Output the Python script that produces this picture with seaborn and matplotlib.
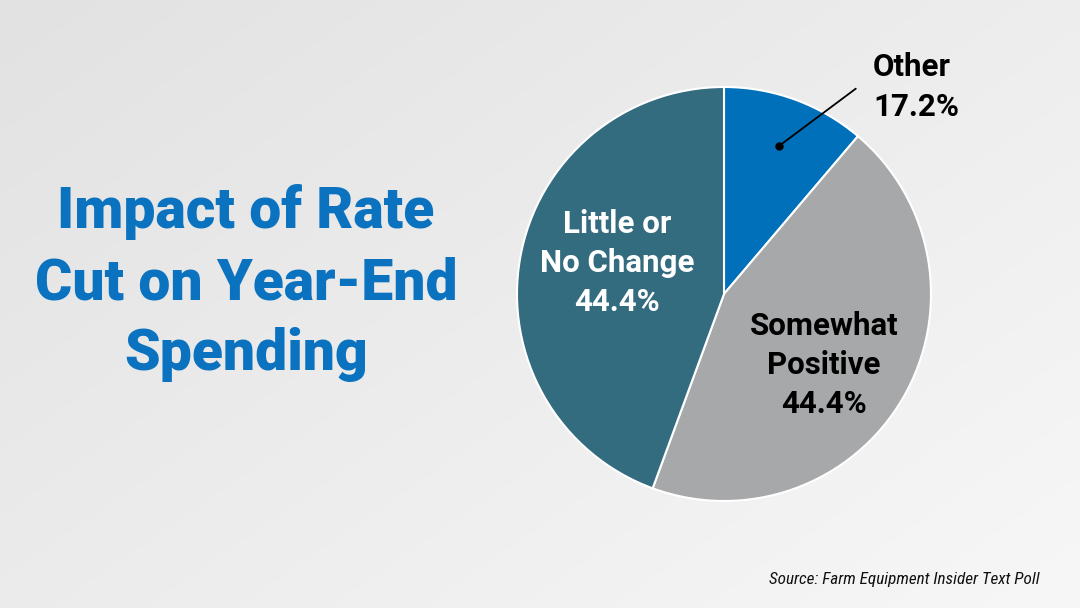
import numpy as np
import matplotlib
matplotlib.use("Agg")
import matplotlib.pyplot as plt
from matplotlib import font_manager as fm
from matplotlib.colors import LinearSegmentedColormap
import seaborn as sns

# ---- data ----
categories = ["Other", "Somewhat Positive", "Little or No Change"]
shares = [11.2, 44.4, 44.4]            # wedge sizes as drawn
label_texts = ["Other\n17.2%", "Somewhat\nPositive\n44.4%", "Little or\nNo Change\n44.4%"]
slice_colors = ["#0070BA", "#A7A8AA", "#336B7F"]
title_lines = ["Impact of Rate", "Cut on Year-End", "Spending"]
source_text = "Source: Farm Equipment Insider Text Poll"

sns.set_theme(style="white")
names = {f.name for f in fm.fontManager.ttflist}
main_font = "Roboto" if "Roboto" in names else "DejaVu Sans"
narrow = None
for cand in ["Roboto Condensed", "Liberation Sans Narrow", "Open Sans Condensed"]:
    if cand in names:
        narrow = cand
        break
if narrow is None:
    narrow = main_font
plt.rcParams["font.family"] = [main_font, "DejaVu Sans"]

W, H = 1080, 608
fig = plt.figure(figsize=(W / 100, H / 100), dpi=100)

# background gradient (darker top-left, lighter bottom-right)
bg = fig.add_axes([0, 0, 1, 1], zorder=0)
xx, yy = np.meshgrid(np.linspace(0, 1, 400), np.linspace(0, 1, 240))
grad = 0.55 * xx + 0.45 * yy
cmap = LinearSegmentedColormap.from_list("bg", ["#E2E2E2", "#F7F7F7"])
bg.imshow(grad, cmap=cmap, aspect="auto", extent=[0, 1, 0, 1], origin="upper")
bg.set_axis_off()

# pie axes: center (724, 294) px, radius 207 px
cx, cy, r = 724, 294, 207
ax = fig.add_axes([(cx - r) / W, (H - cy - r) / H, 2 * r / W, 2 * r / H], zorder=1)
ax.pie(shares, colors=slice_colors, startangle=90, counterclock=False,
       wedgeprops=dict(edgecolor="white", linewidth=1.5))
ax.set_xlim(-1, 1)
ax.set_ylim(-1, 1)
ax.set_aspect("equal")
ax.set_axis_off()

def d(px, py):
    return ((px - cx) / r, (cy - py) / r)

fs = 22.5
ax.text(*d(617, 263), label_texts[2], ha="center", va="center", color="white",
        fontsize=fs, fontweight="bold", linespacing=1.38)
ax.text(*d(824, 365), label_texts[1], ha="center", va="center", color="black",
        fontsize=fs, fontweight="bold", linespacing=1.38)
ax.text(*d(873, 87), label_texts[0], ha="left", va="center", color="black",
        fontsize=fs, fontweight="bold", linespacing=1.38, clip_on=False)
ax.annotate("", xy=d(779, 146), xytext=d(858, 87),
            arrowprops=dict(arrowstyle="-", color="black", lw=1.3), annotation_clip=False)
ax.plot(*d(779, 146), "o", color="black", markersize=5)

# title
title_color = "#0B72BF"
for i, line in enumerate(title_lines):
    ybase = 228 + i * 71
    fig.text(246 / W, 1 - ybase / H, line, ha="center", va="baseline",
             color=title_color, fontsize=41, fontweight="black", zorder=2)

fig.text(1040 / W, 1 - 584 / H, source_text, ha="right", va="baseline",
         fontsize=12.3, fontstyle="italic", color="#111111", family=narrow, zorder=2)

fig.savefig("out.png", dpi=100)
